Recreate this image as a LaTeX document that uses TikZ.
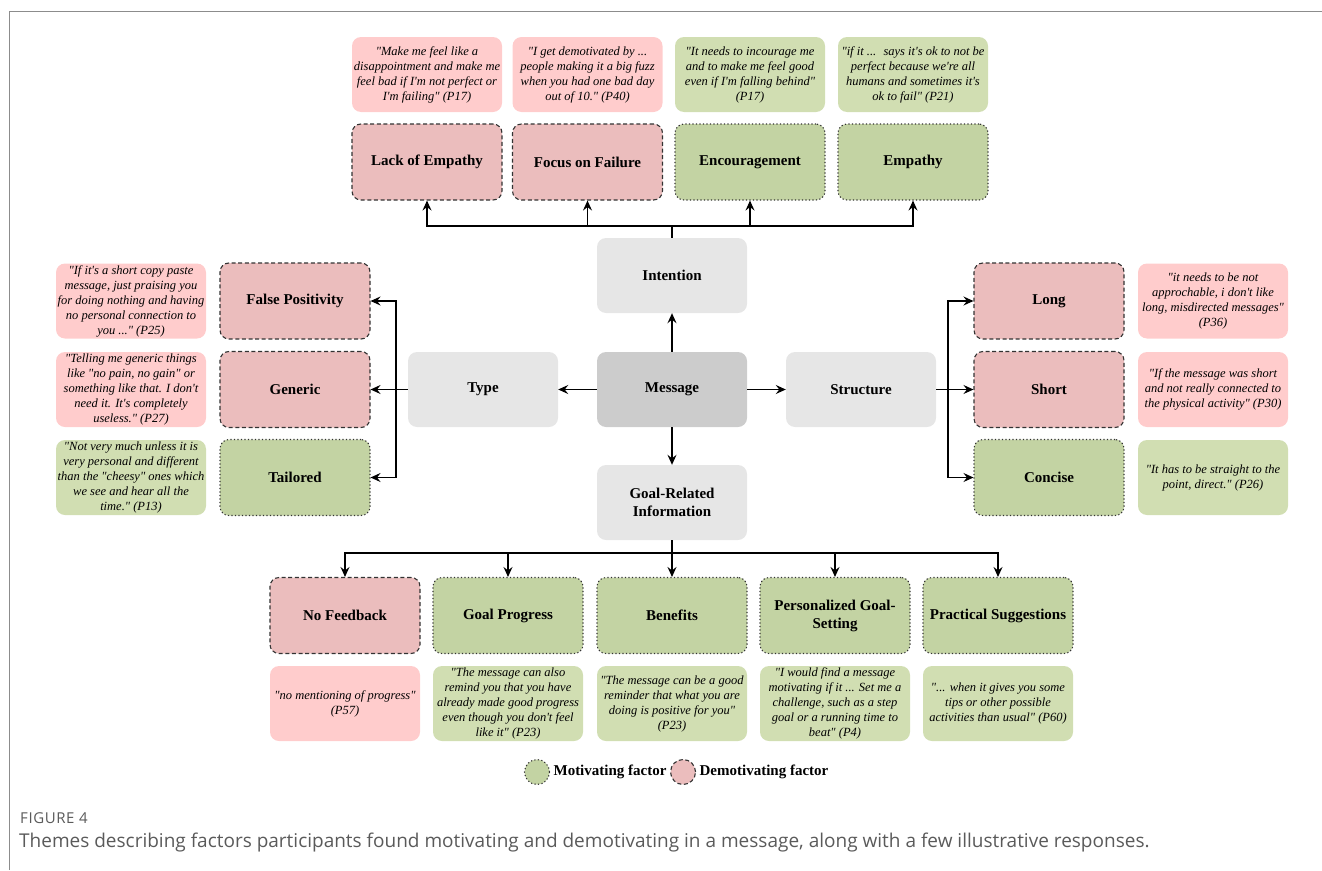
\documentclass[tikz,border=0pt]{standalone}
\usepackage{fontspec}
\setmainfont{Liberation Serif}[Ligatures=TeXOff]
\newfontfamily\capfont{Open Sans}
\newfontfamily\figfont{Open Sans}[LetterSpace=4]
\usetikzlibrary{arrows.meta,positioning}

\definecolor{hubgray}{HTML}{E6E6E6}
\definecolor{msggray}{HTML}{CCCCCC}
\definecolor{demotfill}{HTML}{EBBDBD}
\definecolor{motfill}{HTML}{C3D3A3}
\definecolor{demotquote}{HTML}{FFCCCC}
\definecolor{motquote}{HTML}{D1DEB2}
\definecolor{framegray}{HTML}{8C8C8C}
\definecolor{captext}{HTML}{5A5A5A}

\tikzset{
  box/.style={rectangle, rounded corners=9pt, minimum width=150pt, minimum height=75pt, align=center, inner sep=1pt},
  hub/.style={box, fill=hubgray, font=\bfseries\fontsize{15}{18}\selectfont},
  motline/.style={draw=black!80, line width=1.1pt, dash pattern=on 1.2pt off 2.3pt, fill=motfill},
  demotline/.style={draw=black!80, line width=1.1pt, dash pattern=on 4pt off 2.6pt, fill=demotfill},
  theme/.style={box, minimum height=76pt, font=\bfseries\fontsize{15}{18}\selectfont},
  quote/.style={box, font=\itshape\fontsize{12.5}{15}\selectfont},
  link/.style={-{Stealth[length=10pt,width=9pt,inset=3.5pt]}, line width=1.3pt},
}

\begin{document}
\begin{tikzpicture}[x=1pt,y=-1pt]
  \useasboundingbox (0,0) rectangle (1322,870);
  \draw[framegray, line width=1pt] (9,870) -- (9,11) -- (1322,11);

  % centre of the map
  \node[hub, fill=msggray] (msg) at (672,389.5) {Message};
  \node[hub] (intent) at (672,275.5) {Intention};
  \node[hub] (type) at (483,389.5) {Type};
  \node[hub] (struct) at (861,389.5) {Structure};
  \node[hub] (goal) at (672,502.5) {Goal-Related\\Information};

  \draw[link] (msg) -- (intent);
  \draw[link] (msg) -- (type);
  \draw[link] (msg) -- (struct);
  \draw[link] (msg) -- (goal);

  % intention
  \node[theme, demotline] (lackemp) at (427,162) {Lack of Empathy};
  \node[theme, demotline] (failure) at (587.5,162) {Focus on Failure};
  \node[theme, motline] (encour) at (750,162) {Encouragement};
  \node[theme, motline] (empathy) at (913,162) {Empathy};
  \node[quote, fill=demotquote] (qlackemp) at (427,74.5) {"Make me feel like a\\disappointment and make me\\feel bad if I'm not perfect or\\I'm failing" (P17)};
  \node[quote, fill=demotquote] (qfailure) at (587.5,74.5) {"I get demotivated by ...\\people making it a big fuzz\\when you had one bad day\\out of 10." (P40)};
  \node[quote, fill=motquote] (qencour) at (750,74.5) {"It needs to incourage me\\and to make me feel good\\even if I'm falling behind"\\(P17)};
  \node[quote, fill=motquote] (qempathy) at (913,74.5) {"if it ...~ says it's ok to not be\\perfect because we're all\\humans and sometimes it's\\ok to fail" (P21)};

  \coordinate (topbar) at (672,226);
  \draw[link] (intent.north) -- (topbar) -| (lackemp.south);
  \draw[link] (intent.north) -- (topbar) -| (failure.south);
  \draw[link] (intent.north) -- (topbar) -| (encour.south);
  \draw[link] (intent.north) -- (topbar) -| (empathy.south);

  % type
  \node[theme, demotline] (falsepos) at (295,301) {False Positivity};
  \node[theme, demotline] (generic) at (295,389.5) {Generic};
  \node[theme, motline] (tailored) at (295,477.5) {Tailored};
  \node[quote, fill=demotquote] (qfalsepos) at (131,301) {"If it's a short copy paste\\message, just praising you\\for doing nothing and having\\no personal connection to\\you ..." (P25)};
  \node[quote, fill=demotquote] (qgeneric) at (131,389.5) {"Telling me generic things\\like "no pain, no gain" or\\something like that. I don't\\need it. It's completely\\useless." (P27)};
  \node[quote, fill=motquote] (qtailored) at (131,477.5) {"Not very much unless it is\\very personal and different\\than the "cheesy" ones which\\we see and hear all the\\time." (P13)};

  \coordinate (leftbar) at (396,389.5);
  \draw[link] (type.west) -- (leftbar) |- (falsepos.east);
  \draw[link] (type.west) -- (leftbar) |- (generic.east);
  \draw[link] (type.west) -- (leftbar) |- (tailored.east);

  % structure
  \node[theme, demotline] (long) at (1049,301) {Long};
  \node[theme, demotline] (short) at (1049,389.5) {Short};
  \node[theme, motline] (concise) at (1049,477.5) {Concise};
  \node[quote, fill=demotquote] (qlong) at (1213,301) {"it needs to be not\\approchable, i don't like\\long, misdirected messages"\\(P36)};
  \node[quote, fill=demotquote] (qshort) at (1213,389.5) {"If the message was short\\and not really connected to\\the physical activity" (P30)};
  \node[quote, fill=motquote] (qconcise) at (1213,477.5) {"It has to be straight to the\\point, direct." (P26)};

  \coordinate (rightbar) at (948,389.5);
  \draw[link] (struct.east) -- (rightbar) |- (long.west);
  \draw[link] (struct.east) -- (rightbar) |- (short.west);
  \draw[link] (struct.east) -- (rightbar) |- (concise.west);

  % goal-related information
  \node[theme, demotline] (nofeed) at (345,615.5) {No Feedback};
  \node[theme, motline] (progress) at (508,615.5) {Goal Progress};
  \node[theme, motline] (benefits) at (672,615.5) {Benefits};
  \node[theme, motline] (goalset) at (835,615.5) {Personalized Goal-\\Setting};
  \node[theme, motline] (tips) at (998,615.5) {Practical Suggestions};
  \node[quote, fill=demotquote] (qnofeed) at (345,703.5) {"no mentioning of progress"\\(P57)};
  \node[quote, fill=motquote] (qprogress) at (508,703.5) {"The message can also\\remind you that you have\\already made good progress\\even though you don't feel\\like it" (P23)};
  \node[quote, fill=motquote] (qbenefits) at (672,703.5) {"The message can be a good\\reminder that what you are\\doing is positive for you"\\(P23)};
  \node[quote, fill=motquote] (qgoalset) at (835,703.5) {"I would find a message\\motivating if it ... Set me a\\challenge, such as a step\\goal or a running time to\\beat" (P4)};
  \node[quote, fill=motquote] (qtips) at (998,703.5) {"... when it gives you some\\tips or other possible\\activities than usual" (P60)};

  \coordinate (bottombar) at (672,553);
  \draw[link] (goal.south) -- (bottombar) -| (nofeed.north);
  \draw[link] (goal.south) -- (bottombar) -| (progress.north);
  \draw[link] (goal.south) -- (bottombar) -| (benefits.north);
  \draw[link] (goal.south) -- (bottombar) -| (goalset.north);
  \draw[link] (goal.south) -- (bottombar) -| (tips.north);

  % legend
  \node[circle, motline, minimum size=25pt, inner sep=0pt] (motdot) at (537,772) {};
  \node[right=0pt of motdot, font=\bfseries\fontsize{15}{18}\selectfont] (mottext) {Motivating factor};
  \node[circle, demotline, minimum size=25pt, inner sep=0pt, right=0pt of mottext] (demotdot) {};
  \node[right=0pt of demotdot, font=\bfseries\fontsize{15}{18}\selectfont] (demottext) {Demotivating factor};

  % caption
  \node[anchor=west, inner sep=0pt, text=captext, font=\figfont\fontsize{15}{18}\selectfont] (figno) at (20,818) {FIGURE 4};
  \node[anchor=west, inner sep=0pt, text=captext, font=\capfont\fontsize{19}{22}\selectfont] (caption) at (19,843) {Themes describing factors participants found motivating and demotivating in a message, along with a few illustrative responses.};
\end{tikzpicture}
\end{document}
